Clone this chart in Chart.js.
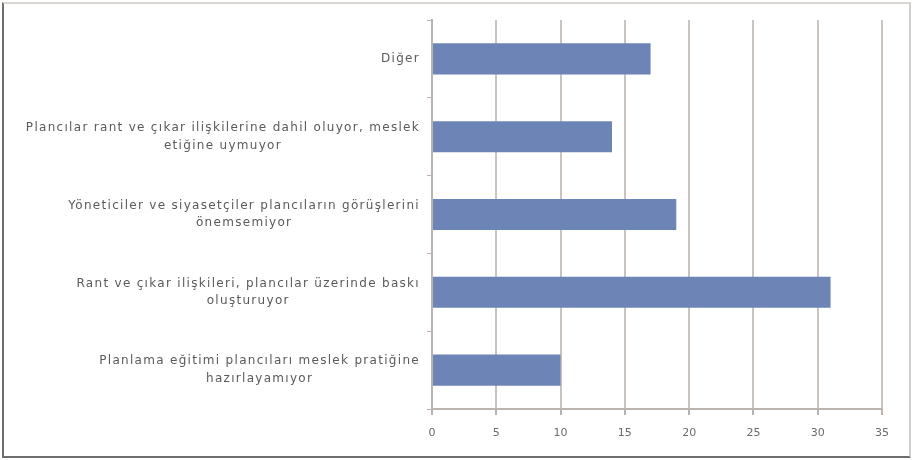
<!DOCTYPE html>
<html>
<head>
<meta charset="utf-8">
<script src="https://cdn.jsdelivr.net/npm/chart.js@4/dist/chart.umd.min.js"></script>
<style>
  html, body { margin: 0; padding: 0; background: #ffffff; }
  #frame {
    position: absolute; left: 2px; top: 2px;
    width: 905px; height: 452px;
    border: 2px solid #6e6e6e; border-top-color: #d9d4d0; border-right-color: #cfcfcf;
    background: #fff;
  }
  #wrap { position: relative; width: 905px; height: 452px; }
</style>
</head>
<body>
<div id="frame"><div id="wrap"><canvas id="c"></canvas></div></div>
<script>
// ---- data ----
const categories = [
  ["Diğer"],
  ["Plancılar rant ve çıkar ilişkilerine dahil oluyor, meslek", "etiğine uymuyor"],
  ["Yöneticiler ve siyasetçiler plancıların görüşlerini", "önemsemiyor"],
  ["Rant ve çıkar ilişkileri, plancılar üzerinde baskı", "oluşturuyor"],
  ["Planlama eğitimi plancıları meslek pratiğine", "hazırlayamıyor"]
];
const values = [17, 14, 19, 31, 10];
const xTicks = [0, 5, 10, 15, 20, 25, 30, 35];

const labelFont = '12px "DejaVu Sans"';
const labelColor = '#5a5a5a';

const centeredLabels = {
  id: 'centeredLabels',
  afterDraw(chart) {
    const ctx = chart.ctx;
    const y = chart.scales.y;
    const rightEdge = chart.chartArea.left - 12;
    const lh = 17.5;
    ctx.save();
    ctx.font = labelFont;
    if ('letterSpacing' in ctx) ctx.letterSpacing = '1.3px';
    ctx.fillStyle = labelColor;
    ctx.textAlign = 'center';
    ctx.textBaseline = 'middle';
    chart.data.labels.forEach((lines, i) => {
      const cy = y.getPixelForTick(i);
      let widest = 0;
      lines.forEach(l => { widest = Math.max(widest, ctx.measureText(l).width); });
      const cx = rightEdge - widest / 2;
      const top = cy - (lines.length - 1) * lh / 2;
      lines.forEach((l, k) => ctx.fillText(l, cx, top + k * lh));
    });
    ctx.restore();
  }
};

new Chart(document.getElementById('c'), {
  type: 'bar',
  data: {
    labels: categories,
    datasets: [{
      data: values,
      backgroundColor: '#6c84b6',
      borderWidth: 0,
      barPercentage: 0.4,
      categoryPercentage: 1.0
    }]
  },
  options: {
    indexAxis: 'y',
    responsive: true,
    maintainAspectRatio: false,
    animation: false,
    layout: { padding: { top: 16, right: 27, left: 0, bottom: 0 } },
    plugins: { legend: { display: false }, tooltip: { enabled: false } },
    scales: {
      x: {
        min: 0, max: 35,
        afterBuildTicks(scale) { scale.ticks = xTicks.map(v => ({ value: v })); },
        grid: { color: '#cbc3be', lineWidth: 2, drawTicks: true, tickLength: 6, tickColor: '#bdb3ad' },
        border: { display: true, color: '#bdb3ad', width: 2 },
        ticks: { color: '#6a6a6a', font: { family: 'DejaVu Sans', size: 11 }, padding: 12 },
        afterFit(scale) { scale.height = 47; }
      },
      y: {
        grid: { drawOnChartArea: false, drawTicks: true, tickLength: 5, tickColor: '#bdb3ad', lineWidth: 1 },
        border: { display: true, color: '#bdb3ad', width: 2 },
        ticks: { display: false },
        afterFit(scale) { scale.width = 428; }
      }
    }
  },
  plugins: [centeredLabels]
});
</script>
</body>
</html>
